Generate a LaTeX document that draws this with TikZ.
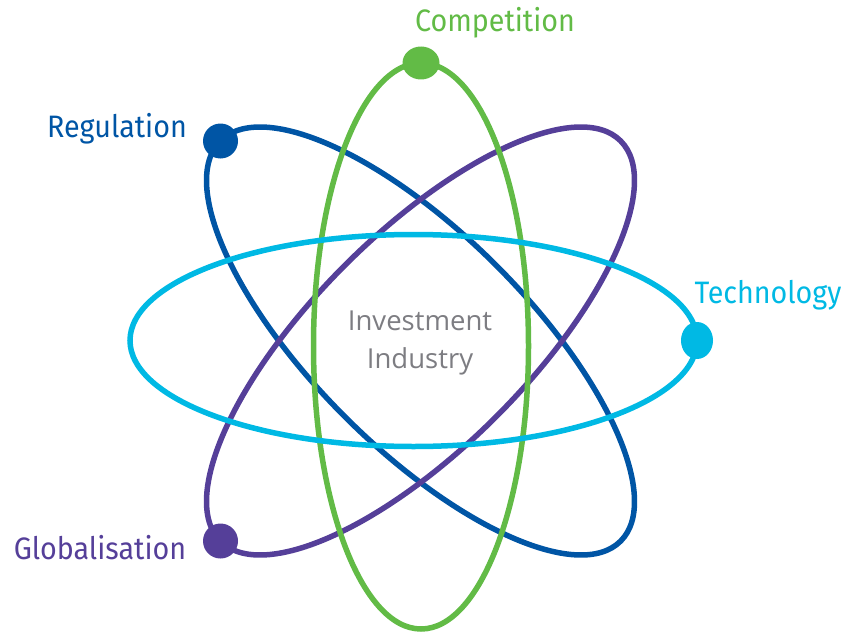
\documentclass[tikz,border=0pt]{standalone}
\usepackage{fontspec}
\setmainfont{Open Sans}
\newfontfamily\labelfont[FakeStretch=0.925]{Fira Sans}
\definecolor{cgreen}{RGB}{98,187,70}
\definecolor{cblue}{RGB}{0,85,165}
\definecolor{cpurple}{RGB}{85,63,153}
\definecolor{ccyan}{RGB}{0,185,228}
\definecolor{cgray}{RGB}{125,125,130}
\tikzset{
  orbit/.style={line width=5.5pt},
  lbl/.style={anchor=base, inner sep=0pt, font=\labelfont\fontsize{31}{36}\selectfont},
  core/.style={anchor=base, inner sep=0pt, text=cgray, font=\fontsize{27.5}{32}\selectfont},
}
\begin{document}
\begin{tikzpicture}[x=1pt,y=-1pt]
\useasboundingbox (0,0) rectangle (846,634);
% orbits
\draw[orbit, cblue, rotate around={-45:(420.5,341)}] (420.5,341) ellipse [x radius=283, y radius=107];
\draw[orbit, cpurple, rotate around={45:(420.5,341)}] (420.5,341) ellipse [x radius=283, y radius=107];
\draw[orbit, cgreen] (421,346) ellipse [x radius=107.5, y radius=283];
\draw[orbit, ccyan] (413.5,340.5) ellipse [x radius=283.5, y radius=106];
% dots
\fill[cgreen] (421,63) ellipse [x radius=18.5, y radius=16.5];
\fill[ccyan] (697,340.5) ellipse [x radius=16, y radius=18.5];
\fill[cblue] (220.5,141) circle [radius=17.5];
\fill[cpurple] (220.5,541) circle [radius=17.5];
% labels
\node[lbl, text=cgreen] (comp) at (495,31.5) {Competition};
\node[lbl, text=cblue] (reg) at (117,137) {Regulation};
\node[lbl, text=ccyan] (tech) at (768,303) {Technology};
\node[lbl, text=cpurple] (glob) at (100,559) {Globalisation};
\node[core] (inv) at (420,330) {Investment};
\node[core] (ind) at (420,368) {Industry};
\end{tikzpicture}
\end{document}
